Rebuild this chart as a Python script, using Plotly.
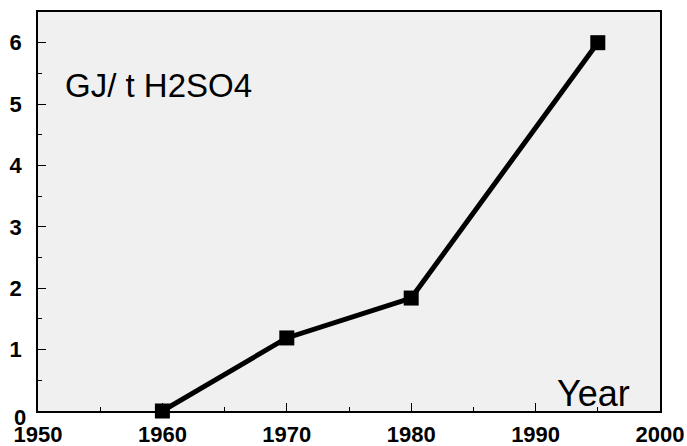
import plotly.graph_objects as go

years = [1960, 1970, 1980, 1995]
energy = [0.0, 1.19, 1.84, 6.0]
x_ticks = [1950, 1960, 1970, 1980, 1990, 2000]
y_ticks = [1, 2, 3, 4, 5, 6]

FAM = "Liberation Sans, Arial, sans-serif"
font_bold = dict(family=FAM, size=22, color="black", weight="bold")

fig = go.Figure()
fig.add_trace(go.Scatter(
    x=years, y=energy, mode="lines+markers",
    line=dict(color="black", width=5),
    marker=dict(symbol="square", size=15, color="black"),
    showlegend=False, cliponaxis=False,
))

fig.update_layout(
    width=687, height=446,
    margin=dict(l=38, r=27, t=12, b=35, autoexpand=False),
    paper_bgcolor="white", plot_bgcolor="#f0f0f0",
    font=dict(family=FAM),
)
fig.update_xaxes(
    range=[1950, 2000], tickvals=x_ticks, ticktext=[str(v) for v in x_ticks],
    ticks="inside", ticklen=8, tickwidth=1, tickcolor="black",
    minor=dict(dtick=5, ticks="inside", ticklen=4, tickcolor="black", showgrid=False),
    showgrid=False, zeroline=False, automargin=False,
    showline=True, linecolor="black", linewidth=1.5, mirror=True,
    tickfont=font_bold, ticklabelstandoff=3,
)
fig.update_yaxes(
    range=[0, 6.5], tickvals=y_ticks, ticktext=[str(v) for v in y_ticks],
    ticks="inside", ticklen=8, tickwidth=1, tickcolor="black",
    minor=dict(tickvals=[0.5, 1.5, 2.5, 3.5, 4.5, 5.5], ticks="inside", ticklen=4, tickcolor="black", showgrid=False),
    showgrid=False, zeroline=False, automargin=False,
    showline=True, linecolor="black", linewidth=1.5, mirror=True,
    tickfont=font_bold, ticklabelstandoff=10,
)
fig.add_annotation(x=0, y=0, xref="paper", yref="y", text="0", showarrow=False,
                   xanchor="right", yanchor="middle", xshift=-10, yshift=-6, font=font_bold)
fig.add_annotation(x=0.04, y=5.3, xref="paper", yref="y", text="GJ/ t H2SO4", showarrow=False,
                   xanchor="left", yanchor="middle", font=dict(family=FAM, size=33, color="black"))
fig.add_annotation(x=0.955, y=0.29, xref="paper", yref="y", text="Year", showarrow=False,
                   xanchor="right", yanchor="middle", font=dict(family=FAM, size=36, color="black"))

fig.write_html("out.html", config={"displayModeBar": False},
               post_script="document.body.style.margin='0';")
